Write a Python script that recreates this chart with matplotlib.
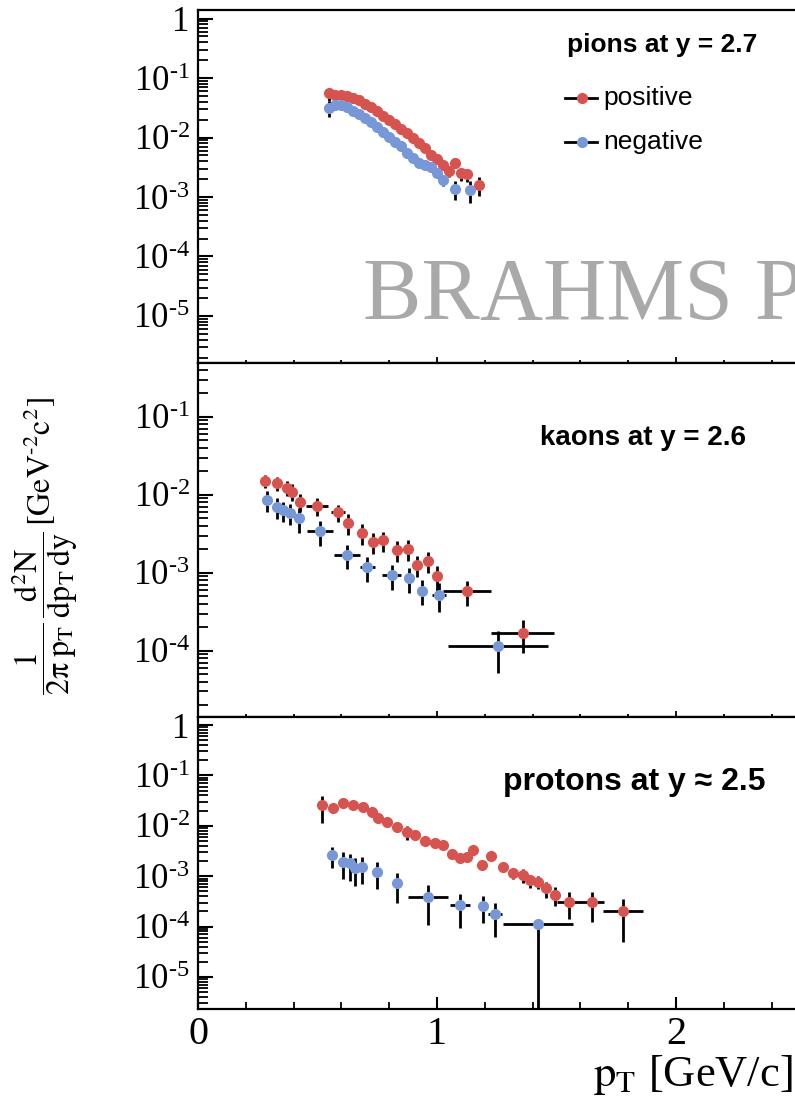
import numpy as np
import matplotlib
matplotlib.use("Agg")
import matplotlib.pyplot as plt
from matplotlib.ticker import LogLocator, MultipleLocator, FuncFormatter, NullFormatter

plt.rcParams['font.family'] = ['Liberation Serif', 'DejaVu Serif']
plt.rcParams['mathtext.fontset'] = 'stix'

RED = '#D9534E'
BLUE = '#7698D8'

# ---------------- pions, y = 2.7 ----------------
pion_pos_pt = [0.55, 0.575, 0.60, 0.625, 0.65, 0.675, 0.70, 0.725, 0.75, 0.775,
               0.80, 0.825, 0.85, 0.875, 0.90, 0.925, 0.95, 0.975, 1.00, 1.025,
               1.05, 1.075, 1.10, 1.125, 1.175]
pion_pos_val = [0.055, 0.051, 0.052, 0.050, 0.047, 0.042, 0.036, 0.032, 0.0275, 0.0234,
                0.0195, 0.0166, 0.0141, 0.0120, 0.0100, 0.0081, 0.0066, 0.0051, 0.0043, 0.0034,
                0.00275, 0.0038, 0.0025, 0.0024, 0.0016]
pion_pos_rel = [0.25, 0.08, 0.08, 0.08, 0.08, 0.08, 0.08, 0.08, 0.08, 0.08,
                0.08, 0.08, 0.08, 0.08, 0.10, 0.10, 0.10, 0.12, 0.12, 0.15,
                0.20, 0.20, 0.25, 0.25, 0.35]

pion_neg_pt = [0.55, 0.575, 0.60, 0.625, 0.65, 0.675, 0.70, 0.725, 0.75, 0.775,
               0.80, 0.825, 0.85, 0.875, 0.90, 0.925, 0.95, 0.975, 1.00, 1.025,
               1.075, 1.14]
pion_neg_val = [0.0316, 0.0347, 0.0355, 0.0324, 0.0282, 0.0245, 0.0214, 0.0182, 0.0151, 0.0126,
                0.0102, 0.0085, 0.0071, 0.0055, 0.0045, 0.0038, 0.00347, 0.0032, 0.0025, 0.0019,
                0.00138, 0.00132]
pion_neg_rel = [0.30, 0.08, 0.08, 0.08, 0.08, 0.08, 0.08, 0.08, 0.08, 0.08,
                0.08, 0.08, 0.08, 0.10, 0.10, 0.10, 0.12, 0.12, 0.15, 0.20,
                0.35, 0.40]

# ---------------- kaons, y = 2.6 ----------------
kaon_pos_pt = [0.280, 0.329, 0.371, 0.392, 0.427, 0.497, 0.587, 0.629, 0.685, 0.733,
               0.775, 0.831, 0.880, 0.915, 0.964, 0.999, 1.124, 1.358]
kaon_pos_val = [0.0151, 0.0141, 0.0123, 0.0110, 0.0081, 0.0072, 0.0060, 0.0044, 0.0032, 0.0025,
                0.0026, 0.00195, 0.0020, 0.00126, 0.00141, 0.00091, 0.00058, 0.00017]
kaon_pos_xerr = [0.0, 0.0, 0.0, 0.0, 0.0, 0.045, 0.03, 0.0, 0.0, 0.02,
                 0.0, 0.0, 0.0, 0.0, 0.0, 0.0, 0.10, 0.13]
kaon_pos_rel = [0.20, 0.20, 0.22, 0.25, 0.25, 0.25, 0.25, 0.30, 0.30, 0.30,
                0.30, 0.30, 0.30, 0.30, 0.30, 0.35, 0.36, 0.45]

kaon_neg_pt = [0.287, 0.329, 0.357, 0.385, 0.424, 0.510, 0.622, 0.709, 0.810, 0.883,
               0.936, 1.008, 1.256]
kaon_neg_val = [0.0085, 0.0069, 0.0063, 0.0059, 0.0050, 0.0034, 0.0017, 0.00117, 0.00093, 0.00085,
                0.00059, 0.00052, 0.000115]
kaon_neg_xerr = [0.02, 0.0, 0.0, 0.0, 0.0, 0.055, 0.055, 0.03, 0.04, 0.02,
                 0.02, 0.03, 0.21]
kaon_neg_rel = [0.30, 0.30, 0.30, 0.30, 0.35, 0.35, 0.35, 0.35, 0.35, 0.35,
                0.35, 0.40, 0.55]

# ---------------- protons, y ~ 2.5 ----------------
prot_pos_pt = [0.518, 0.566, 0.608, 0.650, 0.692, 0.727, 0.754, 0.789, 0.831, 0.873,
               0.908, 0.950, 0.992, 1.026, 1.061, 1.096, 1.124, 1.152, 1.187, 1.228,
               1.277, 1.320, 1.360, 1.389, 1.424, 1.458, 1.494, 1.554, 1.647, 1.779]
prot_pos_val = [0.0257, 0.0224, 0.0282, 0.0263, 0.0240, 0.0191, 0.0141, 0.0120, 0.0095, 0.0076,
                0.0066, 0.0049, 0.0045, 0.0042, 0.0028, 0.0023, 0.00245, 0.0033, 0.00166, 0.0025,
                0.00155, 0.00115, 0.00105, 0.00083, 0.00078, 0.00058, 0.00043, 0.00031, 0.00031, 0.00020]
prot_pos_xerr = [0.0] * 27 + [0.05, 0.05, 0.084]
prot_pos_rel = [0.55, 0.10, 0.10, 0.10, 0.10, 0.10, 0.10, 0.10, 0.10, 0.30,
                0.10, 0.10, 0.10, 0.10, 0.10, 0.10, 0.10, 0.10, 0.10, 0.10,
                0.20, 0.25, 0.30, 0.30, 0.30, 0.35, 0.40, 0.55, 0.60, 0.75]

prot_neg_pt = [0.559, 0.608, 0.636, 0.657, 0.685, 0.747, 0.831, 0.964, 1.096, 1.194,
               1.243, 1.424]
prot_neg_val = [0.0026, 0.00195, 0.00182, 0.00145, 0.00155, 0.00123, 0.00074, 0.00039, 0.00027, 0.00026,
                0.00018, 0.000115]
prot_neg_xerr = [0.0, 0.0, 0.0, 0.0, 0.0, 0.02, 0.02, 0.084, 0.04, 0.0,
                 0.03, 0.146]
prot_neg_rel_lo = [0.45, 0.55, 0.55, 0.55, 0.55, 0.55, 0.60, 0.72, 0.65, 0.55,
                   0.65, 1.0]
prot_neg_rel_hi = [0.45, 0.55, 0.55, 0.55, 0.55, 0.55, 0.60, 0.72, 0.65, 0.55,
                   0.65, 0.05]

W, H = 795, 1096
X0, XSCALE, XMAX = 198, 239, 2.6   # left edge (px), px per GeV/c, upper x limit
AX_W = XSCALE * XMAX

fig = plt.figure(figsize=(W / 100, H / 100), dpi=100)


def frac_box(top_px, bot_px):
    return [X0 / W, 1 - bot_px / H, AX_W / W, (bot_px - top_px) / H]


def ax_x(px):
    return (px - X0) / AX_W


ax_pi = fig.add_axes(frac_box(10, 363))
ax_k = fig.add_axes(frac_box(363, 717))
ax_p = fig.add_axes(frac_box(717, 1009))


def log_label(v, pos):
    e = int(round(np.log10(v)))
    if e == 0:
        return '1'
    return '$\\mathdefault{10^{\u2010%d}}$' % (-e)


def style(ax, ylim, show_x):
    ax.set_yscale('log')
    ax.set_xlim(0, XMAX)
    ax.set_ylim(*ylim)
    ax.yaxis.set_major_locator(LogLocator(base=10, numticks=20))
    ax.yaxis.set_minor_locator(LogLocator(base=10, subs=np.arange(2, 10), numticks=20))
    ax.yaxis.set_major_formatter(FuncFormatter(log_label))
    ax.yaxis.set_minor_formatter(NullFormatter())
    ax.xaxis.set_major_locator(MultipleLocator(1))
    ax.xaxis.set_minor_locator(MultipleLocator(0.2))
    ax.tick_params(axis='y', which='major', direction='in', length=11, width=1.5,
                   labelsize=25, pad=6)
    ax.tick_params(axis='y', which='minor', direction='in', length=7, width=1.3)
    if show_x:
        ax.tick_params(axis='x', which='major', direction='in', length=9, width=1.5,
                       labelsize=29, pad=5)
        ax.tick_params(axis='x', which='minor', direction='in', length=5, width=1.3)
    else:
        ax.tick_params(axis='x', which='major', direction='in', length=4, width=1.3,
                       labelbottom=False)
        ax.tick_params(axis='x', which='minor', direction='in', length=2.5, width=1.3)
    for s in ('left', 'bottom', 'top'):
        ax.spines[s].set_linewidth(1.6)
    ax.spines['right'].set_visible(False)


def draw(ax, pt, val, xerr, rel_lo, rel_hi, color):
    val = np.asarray(val)
    lo = val * np.asarray(rel_lo)
    hi = val * np.asarray(rel_hi)
    ax.errorbar(pt, val, xerr=xerr, yerr=[lo, hi], fmt='o', ms=7, mfc=color, mec=color,
                ecolor='k', elinewidth=2.0, capsize=0, zorder=3)


style(ax_pi, (10 ** -5.79, 10 ** 0.143), False)
style(ax_k, (10 ** -4.85, 10 ** -0.31), False)
style(ax_p, (10 ** -5.635, 10 ** 0.159), True)

draw(ax_pi, pion_pos_pt, pion_pos_val, 0, pion_pos_rel, pion_pos_rel, RED)
draw(ax_pi, pion_neg_pt, pion_neg_val, 0, pion_neg_rel, pion_neg_rel, BLUE)
draw(ax_k, kaon_pos_pt, kaon_pos_val, kaon_pos_xerr, kaon_pos_rel, kaon_pos_rel, RED)
draw(ax_k, kaon_neg_pt, kaon_neg_val, kaon_neg_xerr, kaon_neg_rel, kaon_neg_rel, BLUE)
draw(ax_p, prot_pos_pt, prot_pos_val, prot_pos_xerr, prot_pos_rel, prot_pos_rel, RED)
draw(ax_p, prot_neg_pt, prot_neg_val, prot_neg_xerr, prot_neg_rel_lo, prot_neg_rel_hi, BLUE)

sans = ['Liberation Sans', 'DejaVu Sans']
ax_pi.text(ax_x(567), 0.90, 'pions at y = 2.7', transform=ax_pi.transAxes, fontsize=19,
           va='center', ha='left', family=sans, fontweight='bold')
ax_k.text(ax_x(540), 0.788, 'kaons at y = 2.6', transform=ax_k.transAxes, fontsize=20,
          va='center', ha='left', family=sans, fontweight='bold')
ax_p.text(ax_x(503), 0.777, 'protons at y \u2248 2.5', transform=ax_p.transAxes, fontsize=23,
          va='center', ha='left', family=sans, fontweight='bold')

# legend entries for the charge sign
for yy, col, lab in [(0.751, RED, 'positive'), (0.626, BLUE, 'negative')]:
    ax_pi.plot([ax_x(565), ax_x(597)], [yy, yy], transform=ax_pi.transAxes, color='k',
               lw=2.0, clip_on=False)
    ax_pi.plot([ax_x(582)], [yy], transform=ax_pi.transAxes, marker='o', ms=7,
               mfc=col, mec=col, clip_on=False)
    ax_pi.text(ax_x(603), yy, lab, transform=ax_pi.transAxes, fontsize=19,
               family=sans, va='center', ha='left')

# experiment watermark running off the right edge of the page
fig.text(363 / W, 1 - 297 / H, 'BRAHMS P', fontsize=63, color='#a9a9a9',
         family=['Liberation Serif', 'DejaVu Serif'], va='center', ha='left')

fig.text(45 / W, 1 - 546 / H,
         '$\\dfrac{1}{2\\mathrm{\u03c0}\\;\\mathrm{p}_{\\mathrm{T}}}\\,'
         '\\dfrac{\\mathrm{d}^{2}\\mathrm{N}}{\\mathrm{dp}_{\\mathrm{T}}\\,\\mathrm{dy}}\\,'
         '[\\mathrm{GeV}^{\u20102}\\mathrm{c}^{2}]$',
         fontsize=23, rotation=90, ha='center', va='center')

fig.text(793 / W, 1 - 1075 / H, r'$\mathrm{p}_{\mathrm{T}}$ [GeV/c]', fontsize=32,
         ha='right', va='center')

fig.savefig('out.png', dpi=100)
